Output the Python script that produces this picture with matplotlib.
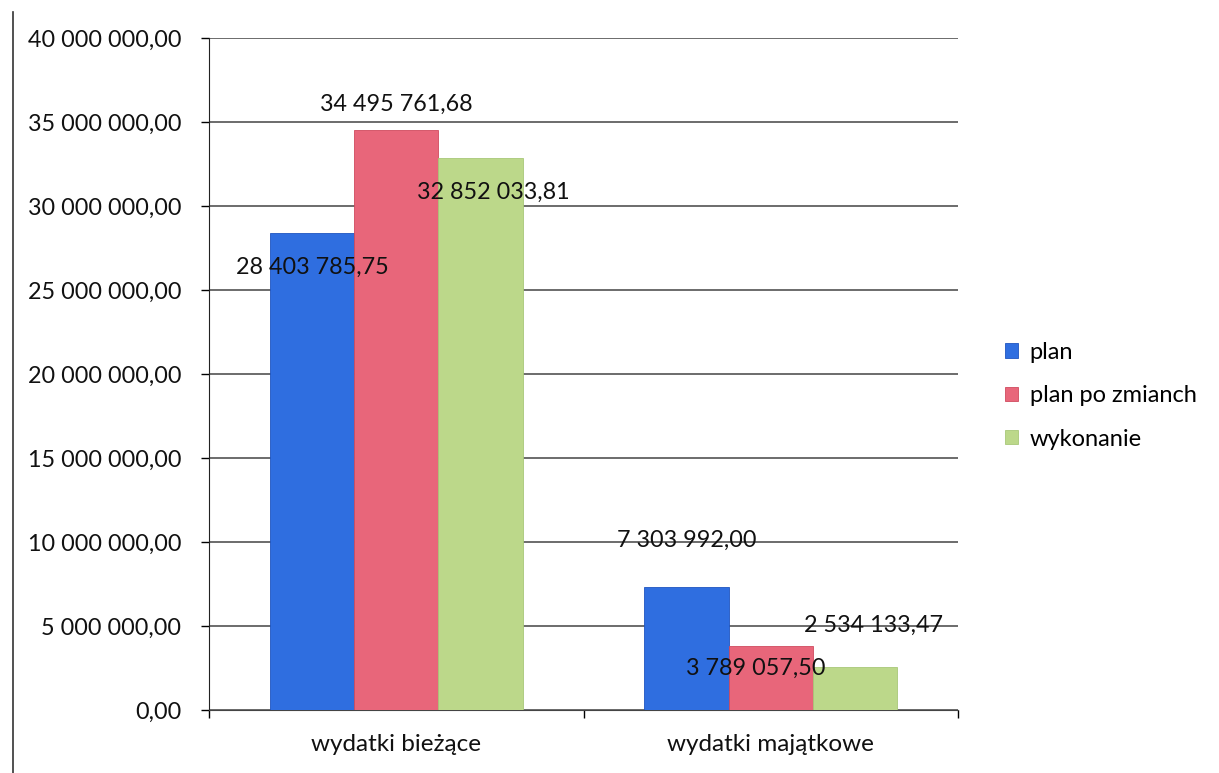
import matplotlib
matplotlib.use("Agg")
import matplotlib.pyplot as plt
from matplotlib.lines import Line2D
from matplotlib.patches import Patch
import numpy as np

categories = ["wydatki bieżące", "wydatki majątkowe"]
series = ["plan", "plan po zmianch", "wykonanie"]
plan = [28403785.75, 7303992.00]
plan_po_zmianach = [34495761.68, 3789057.50]
wykonanie = [32852033.81, 2534133.47]
yticks = [0, 5e6, 10e6, 15e6, 20e6, 25e6, 30e6, 35e6, 40e6]

colors = ["#2f6ee0", "#e8667a", "#bcd88a"]
edges = ["#1f55c0", "#d04a5e", "#a8c878"]

def fmt(v):
    s = f"{v:,.2f}"
    return s.replace(",", " ").replace(".", ",")

plt.rcParams["font.family"] = ["Lato", "DejaVu Sans"]
fig = plt.figure(figsize=(12.19, 7.73), dpi=100)
ax = fig.add_axes([0.1715, 0.0815, 0.6145, 0.8695])

vals = [plan, plan_po_zmianach, wykonanie]
x = np.arange(len(categories))
w = 0.225
bars = []
for i, (v, c, e) in enumerate(zip(vals, colors, edges)):
    b = ax.bar(x + (i - 1) * w, v, w, color=c, edgecolor=e, linewidth=0.6, label=series[i], zorder=3)
    bars.append(b)

ax.set_xlim(-0.5, 1.5)
ax.set_ylim(0, 40e6)
ax.set_yticks(yticks)
ax.set_yticklabels([fmt(t) for t in yticks], fontsize=16.8, color="#111111")
ax.set_xticks(x)
ax.set_xticklabels(categories, fontsize=17.5, color="#111111")
ax.tick_params(axis="x", length=0, pad=17)
ax.tick_params(axis="y", length=6, direction="out", width=1, pad=14)
ax.set_xticks([-0.5, 0.5, 1.5], minor=True)
ax.tick_params(axis="x", which="minor", length=6, direction="out", width=1)
ax.grid(axis="y", color="#444444", linewidth=1.1, zorder=0)
for s in ["top", "right"]:
    ax.spines[s].set_visible(False)
ax.spines["left"].set_color("#222222")
ax.spines["bottom"].set_color("#444444")

# data labels: (series index, category index, dx points, dy points)
offsets = {
    (0, 0): (0, -25), (1, 0): (0, 19), (2, 0): (9, -25),
    (0, 1): (0, 34), (1, 1): (-11, -16), (2, 1): (13, 30),
}
for (i, j), (dx, dy) in offsets.items():
    b = bars[i][j]
    ax.annotate(fmt(vals[i][j]), (b.get_x() + b.get_width() / 2, b.get_height()),
                xytext=(dx, dy), textcoords="offset points", ha="center", va="center",
                fontsize=16.8, color="#111111", zorder=5)

handles = [Patch(facecolor=c, edgecolor=e, linewidth=0.6) for c, e in zip(colors, edges)]
fig.legend(handles, series, loc="center left", bbox_to_anchor=(0.807, 0.488), frameon=False,
           fontsize=17, handlelength=0.55, handleheight=0.55, handletextpad=0.5, labelspacing=0.95)

fig.add_artist(Line2D([0.011, 0.011], [0.0, 0.985], transform=fig.transFigure, color="#333333", linewidth=1.2))

fig.savefig("out.png", dpi=100)
